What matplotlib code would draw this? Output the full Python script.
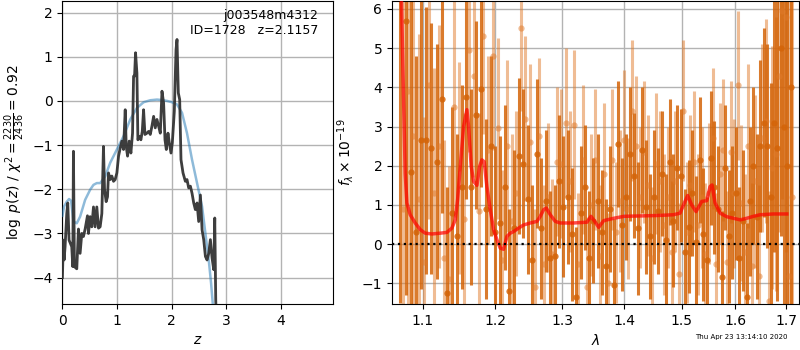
import numpy as np
import matplotlib
matplotlib.use("Agg")
import matplotlib.pyplot as plt
from matplotlib.ticker import NullLocator, FixedFormatter

# ---------------- left panel: p(z) ----------------
z_pz = [0.000, 0.018, 0.031, 0.049, 0.080, 0.098, 0.122, 0.171, 0.190, 0.202,
        0.220, 0.263, 0.294, 0.324, 0.355, 0.385, 0.416, 0.459, 0.477, 0.508,
        0.538, 0.569, 0.599, 0.630, 0.661, 0.691, 0.722, 0.752, 0.771, 0.801,
        0.826, 0.844, 0.875, 0.905, 0.936, 0.966, 0.997, 1.028, 1.058, 1.089,
        1.119, 1.150, 1.168, 1.193, 1.223, 1.254, 1.284, 1.303, 1.321, 1.339,
        1.364, 1.382, 1.413, 1.437, 1.462, 1.486, 1.511, 1.547, 1.578, 1.609,
        1.639, 1.670, 1.700, 1.731, 1.761, 1.792, 1.823, 1.853, 1.878, 1.902,
        1.933, 1.957, 1.988, 2.012, 2.049, 2.080, 2.098, 2.122, 2.147, 2.171,
        2.208, 2.251, 2.281, 2.312, 2.343, 2.373, 2.404, 2.434, 2.465, 2.495,
        2.526, 2.557, 2.587, 2.618, 2.648, 2.679, 2.709, 2.740, 2.771, 2.789,
        2.807, 2.832]
logpz = [-4.00, -3.15, -3.60, -3.30, -2.55, -2.31, -3.15, -3.30, -3.75, -1.14,
         -3.75, -3.80, -2.90, -3.45, -3.00, -3.07, -2.90, -2.60, -3.00, -2.62,
         -2.85, -2.40, -2.85, -2.40, -2.88, -2.85, -2.55, -1.03, -2.00, -2.28,
         -2.17, -1.63, -1.78, -1.70, -1.82, -1.78, -1.63, -1.25, -1.07, -0.91,
         -1.10, -0.20, -1.03, -1.25, -0.91, -1.18, -0.73, 0.56, 0.56, 1.09,
         0.63, -0.88, -0.80, -0.88, -0.69, -0.20, -0.76, -0.73, -0.69, -0.76,
         -0.57, -0.35, -0.61, -0.42, -0.57, -0.73, 0.22, -0.05, -0.88, -1.10,
         -0.73, -0.95, -1.18, -0.95, -0.23, 1.16, 1.39, 0.18, 0.03, -1.33,
         -1.63, -1.82, -1.78, -1.97, -1.93, -2.09, -2.31, -2.46, -2.31, -2.73,
         -2.13, -2.92, -3.14, -3.52, -3.60, -3.45, -3.14, -3.56, -3.82, -2.65,
         -4.50, -5.50]

z_prior = [0.000, 0.031, 0.080, 0.122, 0.159, 0.202, 0.263, 0.324, 0.416, 0.508,
           0.569, 0.630, 0.691, 0.783, 0.875, 0.997, 1.119, 1.242, 1.364, 1.486,
           1.609, 1.731, 1.823, 1.914, 2.006, 2.098, 2.190, 2.281, 2.373, 2.465,
           2.557, 2.618, 2.679, 2.722, 2.780]
log_prior = [-2.60, -2.39, -2.28, -2.22, -2.26, -2.73, -2.77, -2.62, -2.24, -2.01,
             -1.90, -1.86, -1.86, -1.71, -1.40, -1.10, -0.80, -0.42, -0.16, -0.03,
             0.015, 0.03, 0.02, 0.00, -0.03, -0.08, -0.27, -0.73, -1.33, -1.86,
             -2.39, -3.00, -3.60, -4.13, -5.00]

# ---------------- right panel: spectrum ----------------
wave_start_dark, wave_start_light, wave_step = 1.0705, 1.0739, 0.0068

flux_dark = [7.5, 5.7, 1.85, 0.3, 2.65, 2.65, 2.45, 2.1, 3.7, -1.25,
             0.8, 0.2, 1.45, 3.75, 1.45, 3.3, 3.95, 0.9, 2.5, 0.3,
             0.55, 1.45, -1.2, 0.4, 2.25, 2.05, 1.15, -0.4, 2.3, 0.4,
             1.1, -0.35, -0.3, 1.6, 0.95, 1.2, 0.25, -1.35, 0.8, 1.45,
             -0.35, 0.6, 1.1, 0.3, -0.55, 0.9, -1.05, 2.55, 0.5, 1.2,
             2.3, 1.75, 0.4, 2.4, 0.95, 0.2, 1.2, 0.85, 1.8, 0.1,
             2.1, 0.6, 1.95, 1.75, -0.2, 0.45, 1.3, 0.05, 2.15, 0.25,
             -0.4, 2.2, 1.45, 0.9, -0.85, 1.95, 0.2, 0.8, 1.3, -0.35,
             0.6, -1.35, 1.1, 2.0, 0.7, 2.5, 3.1, 2.5, 1.2, 3.1,
             2.45, 5.0, 3.0, 2.0, 4.0]
err_dark = [9.0, 7.0, 5.5, 4.5, 3.8, 3.4, 3.2, 3.0, 2.9, 2.7,
            2.7, 2.6, 2.6, 2.6, 2.5, 2.4, 2.5, 2.3, 2.3, 2.2,
            2.2, 2.1, 2.1, 2.0, 2.0, 1.9, 1.9, 1.9, 1.9, 1.8,
            1.8, 1.7, 1.8, 1.7, 1.8, 1.7, 1.7, 1.8, 1.7, 1.6,
            1.7, 1.6, 1.7, 1.6, 1.7, 1.6, 1.7, 1.6, 1.7, 1.6,
            1.7, 1.6, 1.7, 1.6, 1.7, 1.6, 1.7, 1.6, 1.6, 1.7,
            1.6, 1.7, 1.6, 1.7, 1.6, 1.7, 1.6, 1.7, 1.6, 1.7,
            1.6, 1.7, 1.7, 1.6, 1.7, 1.6, 1.7, 1.7, 1.7, 1.8,
            1.8, 1.9, 1.9, 2.0, 2.1, 2.2, 2.4, 2.6, 2.9, 3.3,
            3.9, 4.8, 6.0, 8.0, 10.0]

flux_light = [0.9, 3.9, 2.75, 1.15, -0.45, 4.05, 1.3, 2.5, -0.35, -0.9,
              3.5, 1.95, 0.65, 4.95, 4.3, 0.85, 5.3, 2.4, 4.8, 2.95,
              -0.4, 2.5, 0.6, 1.3, 5.5, 3.2, 2.6, -1.1, 2.75, -0.5,
              1.2, -0.25, 2.1, 2.05, 3.1, 1.6, 3.05, -0.5, 2.15, -1.1,
              1.0, 2.15, -0.3, 1.8, -1.0, 2.15, 0.3, 1.1, 2.65, 0.9,
              3.4, 2.5, 1.2, 2.35, 1.5, -0.35, 2.05, 1.6, 0.5, 1.2,
              -0.2, 1.6, -0.75, 3.4, 0.3, 1.5, 2.1, 0.5, 1.2, -0.25,
              1.3, 2.7, -0.5, 1.8, 2.4, -0.45, 2.35, 1.3, 4.05, 1.05,
              -0.2, 2.5, -0.55, 1.6, -0.8, 2.7, 3.15, -1.45, 1.95, 2.3,
              4.3, 5.95, 5.8, -0.8, 1.2]
err_light = [8.0, 6.5, 5.0, 4.2, 3.7, 3.4, 3.2, 3.1, 3.0, 2.9,
             2.8, 2.7, 2.7, 2.6, 2.6, 2.5, 2.5, 2.4, 2.4, 2.3,
             2.3, 2.2, 2.2, 2.1, 2.1, 2.1, 2.0, 2.0, 2.0, 2.0,
             1.9, 1.9, 1.9, 1.9, 1.9, 1.8, 1.9, 1.8, 1.9, 1.8,
             1.8, 1.8, 1.8, 1.8, 1.8, 1.8, 1.8, 1.8, 1.8, 1.8,
             1.8, 1.8, 1.8, 1.8, 1.8, 1.8, 1.8, 1.8, 1.8, 1.8,
             1.8, 1.8, 1.8, 1.8, 1.8, 1.8, 1.8, 1.8, 1.8, 1.8,
             1.8, 1.8, 1.8, 1.8, 1.8, 1.8, 1.8, 1.9, 1.9, 2.0,
             2.0, 2.1, 2.1, 2.2, 2.3, 2.4, 2.6, 2.8, 3.1, 3.5,
             4.0, 4.8, 6.0, 8.0, 10.0]

wave_model = [1.0718, 1.0748, 1.0769, 1.0791, 1.0834, 1.0899, 1.0965, 1.1031, 1.1119, 1.1231,
              1.1321, 1.1389, 1.1435, 1.1467, 1.1504, 1.1550, 1.1596, 1.1619, 1.1656, 1.1689,
              1.1736, 1.1774, 1.1806, 1.1839, 1.1877, 1.1925, 1.1973, 1.2021, 1.2069, 1.2117,
              1.2166, 1.2214, 1.2263, 1.2338, 1.2412, 1.2511, 1.2611, 1.2662, 1.2713, 1.2753,
              1.2815, 1.2892, 1.2969, 1.3178, 1.3391, 1.3455, 1.3498, 1.3580, 1.3662, 1.3829,
              1.3998, 1.4275, 1.4561, 1.4852, 1.4971, 1.5061, 1.5109, 1.5182, 1.5261, 1.5366,
              1.5458, 1.5520, 1.5557, 1.5614, 1.5708, 1.5834, 1.5961, 1.6089, 1.6217, 1.6347,
              1.6478, 1.6744, 1.7015]
flux_model = [6.5, 3.7, 1.8, 1.05, 0.75, 0.54, 0.37, 0.28, 0.26, 0.28,
              0.30, 0.41, 0.62, 1.13, 1.98, 3.00, 3.43, 3.00, 1.98, 1.60,
              1.50, 1.98, 2.15, 2.10, 1.47, 0.88, 0.37, 0.11, -0.10, -0.13,
              0.20, 0.28, 0.32, 0.41, 0.49, 0.54, 0.58, 0.71, 0.88, 0.92,
              0.75, 0.58, 0.54, 0.54, 0.56, 0.71, 0.62, 0.43, 0.60, 0.66,
              0.71, 0.72, 0.73, 0.75, 0.79, 1.09, 1.24, 1.00, 0.83, 1.09,
              1.11, 1.47, 1.51, 1.05, 0.79, 0.70, 0.66, 0.62, 0.66, 0.71,
              0.75, 0.77, 0.77]

wave_ticks = [1.1, 1.2, 1.3, 1.4, 1.5, 1.6, 1.7]
wave_ticklabels = ['1.1', '1.2', '1.3', '1.4', '1.5', '1.6', '1.7']

fig = plt.figure(figsize=(8, 3.5), dpi=100)
ax1 = fig.add_axes([0.078, 0.131, 0.338, 0.866])
ax2 = fig.add_axes([0.490, 0.131, 0.509, 0.866])

# left
ax1.plot(z_prior, log_prior, color='tab:blue', alpha=0.5, lw=1.8, zorder=3)
ax1.plot(z_pz, logpz, color='0.2', alpha=0.95, lw=2.0, zorder=4)
ax1.set_xlim(0, 4.95)
ax1.set_ylim(-4.6, 2.26)
ax1.set_xticks([0, 1, 2, 3, 4])
ax1.set_yticks([-4, -3, -2, -1, 0, 1, 2])
ax1.grid(True, color='0.7', lw=1)
ax1.set_xlabel(r'$z$')
ax1.set_ylabel(r'$\log\ p(z)$' + ' / ' + r'$\chi^2=\frac{2230}{2436}=0.92$')
ax1.text(0.945, 0.975, 'j003548m4312\nID=1728   z=2.1157', transform=ax1.transAxes,
         ha='right', va='top', fontsize=9, linespacing=1.25)

# right
wave_dark = wave_start_dark + wave_step * np.arange(len(flux_dark))
wave_light = wave_start_light + wave_step * np.arange(len(flux_light))
ax2.errorbar(wave_light, flux_light, yerr=err_light, fmt='o', color='#e07a2a',
             alpha=0.5, ms=4.5, elinewidth=2.2, capsize=0, mew=0, zorder=2)
ax2.errorbar(wave_dark, flux_dark, yerr=err_dark, fmt='o', color='#d46408',
             alpha=0.85, ms=4.5, elinewidth=2.2, capsize=0, mew=0, zorder=2)
ax2.plot(wave_model, flux_model, color='red', alpha=0.7, lw=2.5, zorder=5)
ax2.axhline(0, color='k', ls=':', lw=1.6, zorder=6)
ax2.set_xscale('log')
ax2.set_xlim(1.060, 1.727)
ax2.set_ylim(-1.53, 6.2)
ax2.set_xticks(wave_ticks)
ax2.xaxis.set_major_formatter(FixedFormatter(wave_ticklabels))
ax2.xaxis.set_minor_locator(NullLocator())
ax2.set_yticks([-1, 0, 1, 2, 3, 4, 5, 6])
ax2.grid(True, color='0.7', lw=1)
ax2.set_xlabel(r'$\lambda$')
ax2.set_ylabel(r'$f_\lambda\times 10^{-19}$')

fig.text(0.985, 0.028, 'Thu Apr 23 13:14:10 2020', ha='right', va='bottom', fontsize=5)

fig.savefig('out.png', dpi=100)
